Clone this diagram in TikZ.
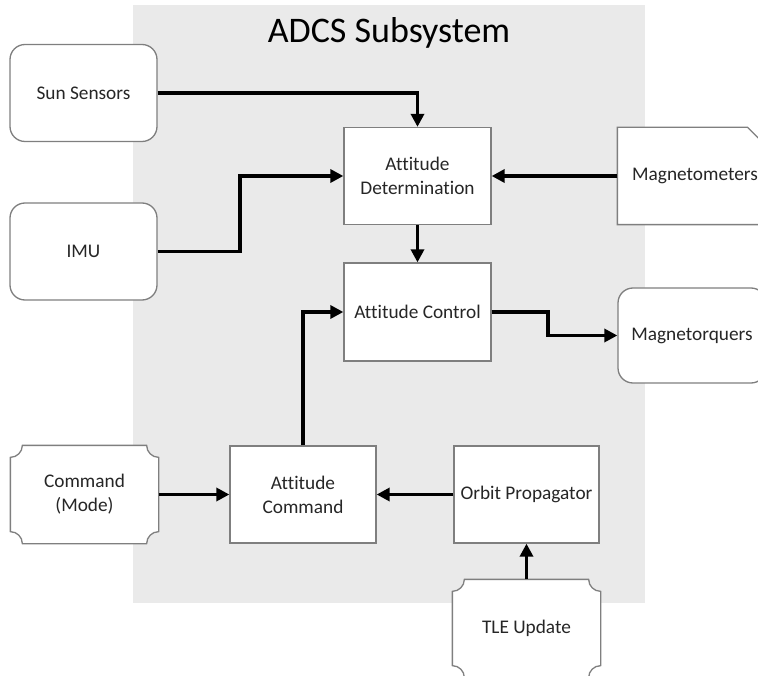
\documentclass[tikz,border=0pt]{standalone}
\usepackage{fontspec}
\setmainfont{Carlito}[Ligatures=NoCommon]
\usetikzlibrary{arrows.meta,calc,backgrounds}

\definecolor{panel}{HTML}{EAEAEA}
\definecolor{edge}{HTML}{7F7F7F}
\definecolor{ink}{HTML}{262626}

\tikzset{
  block/.style={draw=edge, line width=1.3pt, fill=white, inner sep=0pt,
    minimum width=147pt, minimum height=97pt, align=center, text=ink,
    font=\fontsize{19.3}{24}\selectfont},
  roundblock/.style={block, rounded corners=15pt},
  bareblock/.style={block, draw=none, fill=none},
  outline/.style={draw=edge, line width=1.3pt, fill=white},
  flow/.style={line width=3.8pt, -{Triangle[length=13pt,width=13pt]}},
}

\begin{document}
\begin{tikzpicture}[x=1pt,y=-1pt]
\useasboundingbox (0,0) rectangle (758,676);
\clip (0,0) rectangle (758,676);

% title of the subsystem panel
\node[font=\fontsize{36}{40}\selectfont, text=black] (title) at (389,33) {ADCS Subsystem};

% external inputs and outputs
\node[roundblock] (sun) at (83.5,93) {Sun Sensors};
\node[roundblock] (imu) at (83.5,251.5) {IMU};
\node[bareblock] (cmd) at (84.5,494.5) {Command\\(Mode)};
\node[bareblock, minimum width=147pt] (tle) at (526.5,628.5) {TLE Update};
\node[bareblock, minimum width=154pt, minimum height=96pt] (mag) at (695,176) {Magnetometers};
\node[roundblock, minimum width=148pt, minimum height=95pt] (mtq) at (692,335.5) {Magnetorquers};

% shaded panel, then plaque outlines and the snipped box, all under the text
\begin{scope}[on background layer]
\fill[panel] (133,5) rectangle (645,603);
\foreach \n in {cmd,tle} {
  \path[outline]
    ($(\n.north west)+(12,0)$) -- ($(\n.north east)+(-12,0)$)
    .. controls ($(\n.north east)+(-12,6.6)$) and ($(\n.north east)+(-6.6,12)$) .. ($(\n.north east)+(0,12)$)
    -- ($(\n.south east)+(0,-12)$)
    .. controls ($(\n.south east)+(-6.6,-12)$) and ($(\n.south east)+(-12,-6.6)$) .. ($(\n.south east)+(-12,0)$)
    -- ($(\n.south west)+(12,0)$)
    .. controls ($(\n.south west)+(12,-6.6)$) and ($(\n.south west)+(6.6,-12)$) .. ($(\n.south west)+(0,-12)$)
    -- ($(\n.north west)+(0,12)$)
    .. controls ($(\n.north west)+(6.6,12)$) and ($(\n.north west)+(12,6.6)$) .. cycle;
}
\path[outline] (mag.north west) -- ($(mag.north east)+(-25,0)$) -- ($(mag.north east)+(0,25)$)
  -- (mag.south east) -- (mag.south west) -- cycle;
\end{scope}

% internal processing blocks
\node[block] (det) at (417.5,176) {Attitude\\Determination};
\node[block, minimum height=98pt] (ctl) at (417.5,312) {Attitude Control};
\node[block, minimum width=146pt] (acmd) at (303,494.5) {Attitude\\Command};
\node[block, minimum width=145pt] (orb) at (526.5,494.5) {Orbit Propagator};

% bend points of the stepped connectors
\coordinate (imubend) at (240,0);
\coordinate (mtqbend) at (548,0);

% data flow
\draw[flow] (sun.east) -| (det.north);
\draw[flow] (imu.east) -| (imubend |- det.west) -- (det.west);
\draw[flow] (mag.west) -- (det.east);
\draw[flow] (det.south) -- (ctl.north);
\draw[flow] (acmd.north) |- (ctl.west);
\draw[flow] (ctl.east) -| (mtqbend |- mtq.west) -- (mtq.west);
\draw[flow] (cmd.east) -- (acmd.west);
\draw[flow] (orb.west) -- (acmd.east);
\draw[flow] (tle.north) -- (orb.south);
\end{tikzpicture}
\end{document}
